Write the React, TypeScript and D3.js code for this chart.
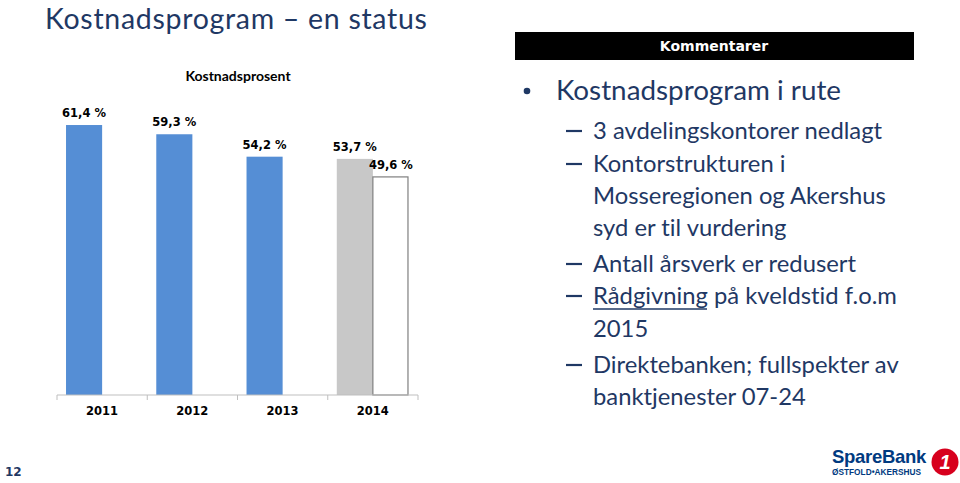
import * as d3 from 'd3';

const years = ['2011', '2012', '2013', '2014'];
const kostnadsprosent = [61.4, 59.3, 54.2, 53.7];
const maal = [null, null, null, 49.6];
const seriesKeys = ['faktisk', 'maal'];

const comments = [
  { level: 0, lines: ['Kostnadsprogram i rute'] },
  { level: 1, lines: ['3 avdelingskontorer nedlagt'] },
  { level: 1, lines: ['Kontorstrukturen i', 'Mosseregionen og Akershus', 'syd er til vurdering'] },
  { level: 1, lines: ['Antall årsverk er redusert'] },
  { level: 1, lines: ['Rådgivning på kveldstid f.o.m', '2015'], underline: 'Rådgivning' },
  { level: 1, lines: ['Direktebanken; fullspekter av', 'banktjenester 07-24'] },
];

const navy = '#1f3864';
const blue = '#558ed5';
const grey = '#c8c8c8';
const fmt = (v: number) => d3.format('.1f')(v).replace('.', ',') + ' %';
const noLig = { fontVariantLigatures: 'none' as const };

export default function App() {
  const width = 960;
  const height = 483;
  const baseY = 395;

  const x = d3.scaleBand().domain(years).range([57, 418]).padding(0);
  const xs = d3.scaleBand().domain(seriesKeys).range([0, x.bandwidth()]).paddingOuter(0.25).paddingInner(0);
  const y = d3.scaleLinear().domain([0, 70]).range([baseY, baseY - 70 * 4.397]);

  const tickXs = [...years.map((yr) => x(yr) as number), 418];

  // baseline of each comment line
  const lineYs = [100, 139, 172, 204, 236, 272, 304, 337, 373, 405];
  let li = 0;

  return (
    <svg width={width} height={height} style={{ position: 'absolute', left: 0, top: 0 }}>
      <rect width={width} height={height} fill="#fff" />
      <text x={45} y={28.5} fill={navy} fontFamily="Lato" fontSize={28.5} letterSpacing={0.7} style={noLig}>
        Kostnadsprogram – en status
      </text>

      <text x={238} y={81} textAnchor="middle" fill="#000" fontFamily="Lato" fontWeight={700} fontSize={14}>
        Kostnadsprosent
      </text>

      {years.map((yr, i) => {
        const x0 = x(yr) as number;
        const bx = x0 + (xs('faktisk') as number);
        const v = kostnadsprosent[i];
        const m = maal[i];
        return (
          <g key={yr}>
            <rect x={bx} y={y(v)} width={xs.bandwidth()} height={baseY - y(v)} fill={yr === '2014' ? grey : blue} />
            <text x={bx + xs.bandwidth() / 2} y={y(v) - 8} textAnchor="middle" fontFamily="DejaVu Sans" fontWeight={700} fontSize={11.5} fill="#000">
              {fmt(v)}
            </text>
            {m != null && (
              <g>
                <rect
                  x={x0 + (xs('maal') as number)}
                  y={y(m)}
                  width={xs.bandwidth() - 1}
                  height={baseY - y(m)}
                  fill="#fff"
                  stroke="#7f7f7f"
                  strokeWidth={1.2}
                />
                <text x={x0 + (xs('maal') as number) + xs.bandwidth() / 2} y={y(m) - 8} textAnchor="middle" fontFamily="DejaVu Sans" fontWeight={700} fontSize={11.5} fill="#000">
                  {fmt(m)}
                </text>
              </g>
            )}
            <text x={x0 + x.bandwidth() / 2} y={415} textAnchor="middle" fontFamily="DejaVu Sans" fontWeight={700} fontSize={11.5} fill="#000">
              {yr}
            </text>
          </g>
        );
      })}

      <line x1={57} x2={418} y1={baseY} y2={baseY} stroke="#bfbfbf" />
      {tickXs.map((tx, i) => (
        <line key={i} x1={tx} x2={tx} y1={baseY} y2={baseY + 5} stroke="#bfbfbf" />
      ))}

      <rect x={515} y={32} width={399} height={28} fill="#000" />
      <text x={714} y={51} textAnchor="middle" fill="#fff" fontFamily="DejaVu Sans" fontWeight={700} fontSize={14}>
        Kommentarer
      </text>

      {comments.map((c, ci) => (
        <g key={ci}>
          {c.lines.map((ln, k) => {
            const ly = lineYs[li++];
            const tx = c.level === 0 ? 556 : 593;
            const fs = c.level === 0 ? 27.8 : 23.8;
            return (
              <g key={k}>
                {k === 0 && (
                  c.level === 0 ? (
                    <circle cx={527} cy={ly - 9} r={3.3} fill={navy} />
                  ) : (
                    <line x1={566} x2={582} y1={ly - 8} y2={ly - 8} stroke={navy} strokeWidth={2.2} />
                  )
                )}
                <text x={tx} y={ly} fill={navy} fontFamily="Lato" fontSize={fs} style={noLig}>
                  {ln}
                </text>
                {k === 0 && c.underline && (
                  <line x1={tx} x2={tx + 114} y1={ly + 5} y2={ly + 5} stroke={navy} strokeWidth={1.3} />
                )}
              </g>
            );
          })}
        </g>
      ))}

      <text x={5} y={476} fill={navy} fontFamily="DejaVu Sans" fontWeight={700} fontSize={12}>
        12
      </text>

      <text x={832} y={463} fill="#003a80" fontFamily="Liberation Sans" fontWeight={700} fontSize={18.5} letterSpacing={-0.3}>
        SpareBank
      </text>
      <text x={832} y={475} fill="#003a80" fontFamily="Liberation Sans" fontWeight={700} fontSize={8.3}>
        ØSTFOLD•AKERSHUS
      </text>
      <circle cx={945} cy={462} r={13.5} fill="#d7001d" />
      <text x={945} y={469} textAnchor="middle" fill="#fff" fontFamily="Liberation Sans" fontWeight={700} fontStyle="italic" fontSize={20}>
        1
      </text>
    </svg>
  );
}
